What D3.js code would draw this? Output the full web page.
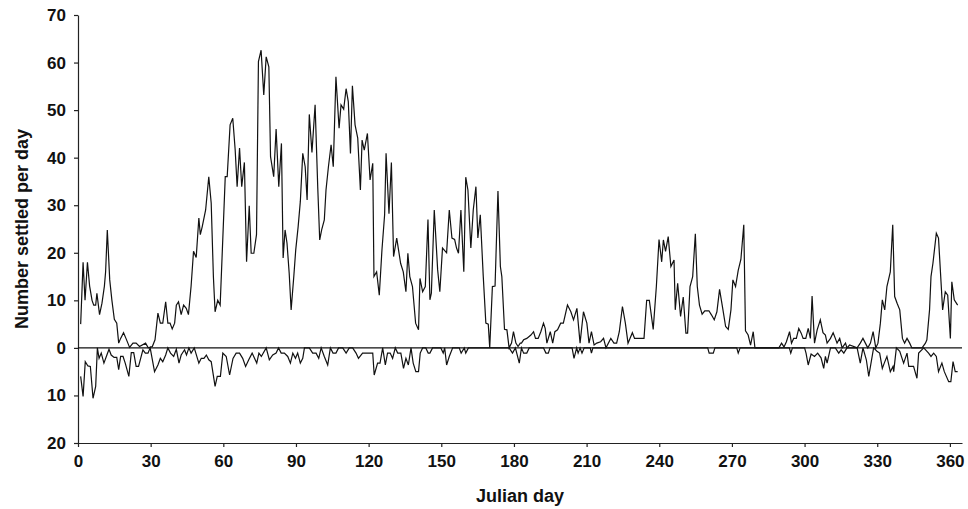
<!DOCTYPE html>
<html>
<head>
<meta charset="utf-8">
<script src="https://cdn.jsdelivr.net/npm/d3@7"></script>
<style>
  body { margin: 0; background: #fff; }
  text { font-family: "Liberation Sans", Arial, sans-serif; font-weight: bold; fill: #111; }
</style>
</head>
<body>
<div id="chart"></div>
<script>
// settlement per day as [julian day, number]
const settledAbove = [
  [1.1,5],[2.1,18],[2.9,10],[3.9,18],[4.8,13],[5.8,10],[6.5,9],[7.3,9],[7.8,11.5],[8.9,7],[9.9,9.4],
  [10.9,13],[11.4,16],[12.1,24.8],[13.1,14.3],[14,10],[15,6],[16,5.2],[16.8,1],[17.6,2],[18.8,3.2],
  [19.8,2],[21.3,0.1],[22.7,1],[24,1],[25.4,0.3],[27.9,1],[29,0],[30.7,0.3],[31.8,1.7],[33,7.3],
  [34,5.2],[35,5.2],[36.2,9.7],[37.1,5.2],[38,5.2],[38.9,4],[39.9,5.2],[40.6,9],[41.5,9.7],[42.6,7],
  [43.6,9],[44.7,8.3],[45.6,7],[46.7,13],[47.7,20.3],[48.8,19],[49.9,27.3],[50.5,23.8],[51.3,25.5],
  [52.7,29],[54,36],[55,30.4],[55.9,15],[56.6,7.6],[57.7,10],[58.7,9],[60.8,36],[61.6,36],[62.8,46.9],
  [63.9,48.3],[64.9,41.6],[65.7,33.9],[66.7,42],[67.6,33.9],[68.7,39],[69.6,18.1],[70.7,29.9],
  [71.5,19.9],[72.6,19.9],[73.7,23.8],[74.5,60.2],[75.6,62.6],[76.7,53.2],[77.7,61.2],[78.8,59.1],
  [79.5,40.2],[80.8,36],[81.8,46],[82.9,33.9],[84,43],[84.7,18.9],[85.5,24.8],[86.3,22],[87.2,15.7],
  [88,8],[89.1,15],[89.9,20.6],[90.9,25.5],[91.8,30.8],[92.8,40.9],[93.8,38.1],[94.6,31.1],[95.5,49.1],
  [96.6,41.1],[97.9,51.1],[99,33.6],[99.8,22.7],[100.6,24.8],[101.7,26.9],[102.4,33.2],[103.4,38.1],
  [104.5,42.7],[105.4,38.1],[106.5,57],[107.8,46.2],[108.6,51.1],[109.7,50.2],[110.7,54.5],[111.6,51.8],
  [112.5,40.9],[113.3,55.1],[114.4,46.9],[115.5,44.1],[116.6,33.2],[117.3,43.7],[118.2,41.6],[119.5,45.1],
  [120.6,35.3],[121.7,38.8],[122.2,15],[123.3,16],[124.4,11.1],[125.5,20.6],[126.6,28],[127.2,40.9],
  [128.4,28.2],[129.4,39],[130.3,19.2],[131.6,23.1],[133.2,17.8],[134.3,16],[135.4,11.8],[136.2,19.9],
  [137,15],[138.1,12.9],[139.4,5.2],[140.6,3.8],[141.2,14.6],[142.3,11.8],[143.4,12.9],[144.5,27],
  [145.3,10.1],[145.9,11.5],[147.1,29],[148.5,16.4],[149.4,11.8],[150.5,21],[152.2,20],[153.3,29],
  [154.4,23.1],[155.5,22.8],[156.3,21],[157.1,19.9],[158.1,29],[159.3,16],[160.1,35.9],[161,33.2],
  [162.2,21],[163.2,29],[164.3,33.9],[165.1,23.1],[166.1,28],[167.3,15.3],[168.4,5.2],[169.4,5],
  [170,0],[171.1,12.9],[172.2,13],[173.4,33],[174.4,17.1],[175,15],[176.1,3.9],[177.1,3.8],[178,0],
  [179,1],[179.8,3.4],[180.8,1],[181.7,0.3],[182.6,1],[183.1,1],[184,1.7],[185.3,2],[187,2.7],
  [188.1,3.4],[188.9,2],[190,2],[191.1,3.4],[192.2,5.2],[192.9,4.1],[193.6,1],[195,3.4],[196,1],
  [196.9,3.4],[198,3.8],[199.3,5.2],[200.4,5.2],[202.1,9],[203.5,7.6],[204.6,5.9],[206,8.3],[207.3,1],
  [208.7,7.6],[210.1,5.2],[211,1],[212,3.4],[213.1,0.6],[214.2,1],[215.8,1.3],[217,2],[218,0],[220,2],
  [221.3,1],[222.4,1],[223.5,3.4],[224.8,8.7],[226,5.2],[227.1,1],[228.9,3.2],[229.8,2],[233.7,2],
  [234.8,10],[235.9,10],[237.5,3.9],[238.8,12.9],[239.9,22.8],[241,18.1],[241.7,22.7],[242.6,20.3],
  [243.7,23.4],[244.8,17.1],[246.1,18.5],[246.6,8],[247.6,13.6],[248.8,6.6],[249.9,10.7],[251,3.1],
  [251.7,3.1],[252.7,12.9],[253.8,15],[254.9,24],[255.7,12.9],[256.6,9],[257.7,7.1],[258.8,7.8],
  [260.5,7.8],[261.6,6.9],[262.7,5.9],[263.8,7.6],[264.9,12.3],[266.3,8],[267.4,4.5],[268.5,3.9],
  [269.6,8],[270.4,14.3],[271.5,12.9],[272.6,16.3],[273.7,18.6],[274.9,25.9],[275.6,3.6],[276.7,2.7],
  [277.7,0.6],[278.8,3.4],[279.5,0],[289.4,0],[290.5,1],[291.5,0.2],[292.5,1.3],[293.8,3.4],[294.6,1],
  [295.5,2],[296.6,2],[297.6,4.1],[298.6,3.1],[299.4,2],[300.5,2],[301.5,4.1],[302.4,2],[303.1,10.9],
  [304.1,1],[305.2,3.8],[306.5,5.9],[307.6,3.2],[308.6,2.7],[309.3,1],[310.7,2],[311.8,3.2],[312.7,2],
  [313.4,1],[314.5,2],[315.5,0],[316.9,1],[317.5,0],[318.6,0.6],[321.7,0],[323,1],[324.1,2],[325.1,1],
  [326.1,0],[327.2,1],[328.3,3.4],[329.4,0],[330.3,1],[331.3,5.2],[332.1,10.1],[333.1,8],[334,12.9],
  [335.4,16],[336.4,25.9],[337.2,10.8],[338.2,9.4],[339.3,8],[340.4,2],[341.3,1],[342.3,2],[343.4,1],
  [344.3,0],[348.5,0],[349.9,1],[350.5,1.7],[351.6,8],[352.2,15],[353,17.8],[354.4,24.1],[355.3,23.1],
  [357,8],[358.1,11.8],[359.1,11.1],[360.2,2],[360.8,13.9],[361.8,10.1],[363.2,9]
];

// second series, plotted below the zero line (stored as negatives)
const settledBelow = [
  [1.1,-6],[2.1,-10.2],[3,-2.9],[4.1,-3.8],[5.1,-3.9],[6.2,-10.6],[7.3,-8.1],[8,0],[8.7,-2.2],
  [9.6,-1.1],[10.7,-3.2],[11.7,-1.8],[12.8,-0.3],[13.7,-1.5],[14.9,-2],[16,-2],[16.8,-4.6],[17.6,-1.8],
  [18.6,-1.8],[19.5,-3.2],[21,-6],[22,-1],[23,-1],[24,-3.9],[25,-3.9],[26.8,-0.4],[27.8,-1.1],
  [28.9,-1.1],[29.8,0],[31.6,-5],[33,-3.6],[34,-2.2],[35,-2.9],[36.2,-1.5],[37.1,0],[38.2,-1.1],
  [39.5,-1.8],[40.6,-0.3],[41.7,-3.2],[42.6,-1.5],[44,-0.4],[44.8,-1.5],[45.8,0],[46.7,-1.1],[48,0],
  [49.9,-3.2],[50.9,-2.2],[52,-2.2],[53,-1.5],[54,-2.5],[55,-2.9],[56.6,-8.1],[57.5,-6],[58.3,-6],
  [58.8,-6],[59.8,-1.1],[61.2,-1.8],[62.6,-5.7],[64,-2.2],[65.3,-1.1],[66.7,-1.1],[68,-2.2],[69.2,-3.9],
  [70.5,-2.5],[71.9,-1.1],[73.8,-3.2],[74.7,-1.1],[75.7,-1.8],[77.7,0],[79,-2.5],[80.4,-1.5],
  [81.8,-1.1],[82.8,0],[83.9,-1.1],[85.2,-1.1],[86.6,-1.8],[87.7,-3.2],[88.7,-1.1],[89.8,-2.2],
  [90.7,-1.1],[91.8,-3.2],[92.8,-2.2],[93.5,0],[95.5,0],[96.9,-1.1],[98.3,-1.1],[99.4,-2.2],[100.4,0],
  [101.7,-1.8],[103.1,-3.6],[104.2,0],[105.3,-1.1],[106.5,-1.1],[107.6,0],[109.3,0],[110.7,-1.1],
  [112,0],[113.4,0],[114.8,-1.1],[115.8,-2.2],[117.5,-1.1],[119,-1.1],[121.7,-1.1],[122.3,-5.7],
  [123.7,-3.2],[124.7,-3.2],[125.8,0],[126.9,-3.6],[127.8,-1.1],[128.9,-1.1],[129.9,-2.2],[131,0],
  [132,-1.1],[133.3,-1.1],[134.4,-4.3],[135.4,-2.2],[136.4,-3.6],[137.5,0],[138.4,-3.2],[139.5,-5],
  [140.6,-5],[141.3,-1.1],[142.3,0],[143.6,0],[144.6,-1.1],[145.3,-1.1],[146.4,0],[149.8,0],
  [150.8,-1.1],[151.4,0],[152.2,-3.6],[153.3,-1.8],[154.7,0],[157.4,0],[158.2,-1.1],[159.5,0],
  [160.1,-1.1],[161.2,0],[178,0],[179.4,-1.1],[180.6,0],[182.2,-3.2],[183.1,0],[184,-1.1],[185.3,-1.1],
  [186.3,0],[192.2,0],[193.2,-1.1],[194.2,-1.1],[194.9,0],[204,0],[204.8,-2.2],[205.9,0],[206.5,-1.1],
  [207.3,0],[208.1,-1.1],[209,0],[211.5,0],[212,-1.1],[212.6,0],[260,0],[260.6,-1.1],[262.3,-1.1],
  [263,0],[272,0],[272.6,-1.1],[273.4,0],[293.7,0],[294.3,-1.1],[295,0],[300,0],[300.6,-1.1],
  [301.5,-3.6],[302.7,-1.3],[304.1,-1.8],[305.4,-1.1],[306.8,-2.1],[307.9,-4.3],[308.6,-1.8],
  [309.3,-3.2],[310.7,0],[312.7,0],[314.1,-1.1],[315.1,-0.4],[316.2,-1.1],[317.5,0],[321.7,0],
  [323,-3.2],[324.1,0],[325.5,-2.5],[326.5,-6],[328.5,0],[329.9,-0.7],[331,-1.1],[332.1,-4.3],
  [332.9,-3.2],[334,-1.8],[335.4,-5],[336.5,-3.9],[336.8,-5],[337.9,0],[339.3,-0.7],[340.9,-3.2],
  [342.3,-1.1],[343,-3.9],[345,-3.9],[346.4,-6.4],[347.1,-1.1],[349.2,0],[351.2,-1.1],[352.2,-1.8],
  [353.3,-1.1],[354.4,-1.8],[355.3,-5],[356.7,-3.2],[357.7,-5],[359.5,-7.1],[360.4,-7.1],[361.3,-2.9],
  [362.2,-5],[363.2,-5]
];

const xTicks = [0, 30, 60, 90, 120, 150, 180, 210, 240, 270, 300, 330, 360];
const yTicks = [-20, -10, 0, 10, 20, 30, 40, 50, 60, 70];

const W = 968, H = 509;
const margin = { top: 15, right: 6, bottom: 66, left: 78 };

const svg = d3.select("#chart")
  .append("svg")
  .attr("width", W)
  .attr("height", H);

const x = d3.scaleLinear().domain([0, 365]).range([margin.left, W - margin.right]);
const y = d3.scaleLinear().domain([-20, 70]).range([H - margin.bottom, margin.top]);

// axes
const xAxis = svg.append("g")
  .attr("transform", `translate(0,${y(-20)})`)
  .call(d3.axisBottom(x).tickValues(xTicks).tickSize(4).tickSizeOuter(0).tickPadding(8));

const yAxis = svg.append("g")
  .attr("transform", `translate(${x(0)},0)`)
  .call(d3.axisLeft(y).tickValues(yTicks).tickSize(4).tickSizeOuter(0).tickPadding(8)
    .tickFormat(d => Math.abs(d)));

[xAxis, yAxis].forEach(g => {
  g.select(".domain").attr("stroke", "#222").attr("stroke-width", 1.2);
  g.selectAll(".tick line").attr("stroke", "#222").attr("stroke-width", 1.2);
  g.selectAll("text")
    .style("font-family", '"Liberation Sans", Arial, sans-serif')
    .style("font-weight", "bold")
    .style("font-size", "17px")
    .attr("fill", "#111");
});

// zero line
svg.append("line")
  .attr("x1", x(0))
  .attr("x2", x(365))
  .attr("y1", y(0))
  .attr("y2", y(0))
  .attr("stroke", "#111")
  .attr("stroke-width", 1.3);

const line = d3.line()
  .x(d => x(d[0]))
  .y(d => y(d[1]));

[settledAbove, settledBelow].forEach(series => {
  svg.append("path")
    .datum(series)
    .attr("fill", "none")
    .attr("stroke", "#111")
    .attr("stroke-width", 1.2)
    .attr("stroke-linejoin", "miter")
    .attr("d", line);
});

// labels
svg.append("text")
  .attr("x", (x(0) + x(365)) / 2)
  .attr("y", 502)
  .attr("text-anchor", "middle")
  .style("font-size", "18px")
  .text("Julian day");

svg.append("text")
  .attr("transform", `translate(28,${(y(70) + y(-20)) / 2}) rotate(-90)`)
  .attr("text-anchor", "middle")
  .style("font-size", "18px")
  .text("Number settled per day");
</script>
</body>
</html>
